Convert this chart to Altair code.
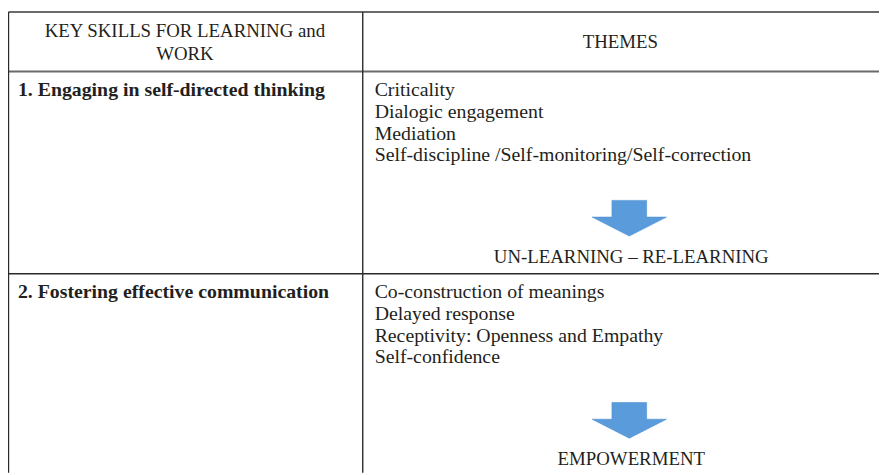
import altair as alt
import pandas as pd

# ---------------- content ----------------
header_left = ["KEY SKILLS FOR LEARNING and", "WORK"]
header_right = ["THEMES"]
skills = ["1. Engaging in self-directed thinking",
          "2. Fostering effective communication"]
themes = [
    ["Criticality", "Dialogic engagement", "Mediation",
     "Self-discipline /Self-monitoring/Self-correction"],
    ["Co-construction of meanings", "Delayed response",
     "Receptivity: Openness and Empathy", "Self-confidence"],
]
outcomes = ["UN-LEARNING \u2013 RE-LEARNING", "EMPOWERMENT"]

# ---------------- layout (page pixels) ----------------
W, H, M = 887, 475, 8
left_x, div_x, right_x = 8.5, 366, 887
top_y, head_y = 10, 70
row_h = 204
line_gap = 21.8
first_off = 25
arrow_off = 148
outcome_off = 193
left_pad, theme_pad = 18, 378
left_center = (7 + div_x) / 2
right_center = 626
out_center = 637
FONT = "Liberation Serif, Times New Roman, DejaVu Serif, serif"
FS_HDR = 19
FS_BODY = 20
TXT = "#231f20"

# text tables
hdr_rows = [{"x": left_center, "y": 35 + i * 23, "text": t} for i, t in enumerate(header_left)]
hdr_rows += [{"x": right_center, "y": 46, "text": header_right[0]}]
bold_rows, theme_rows, out_rows, arrow_rows = [], [], [], []
row_tops = [head_y + i * row_h for i in range(len(skills))]
for i, rt in enumerate(row_tops):
    bold_rows.append({"x": left_pad, "y": rt + first_off, "text": skills[i]})
    for j, t in enumerate(themes[i]):
        theme_rows.append({"x": theme_pad, "y": rt + first_off + j * line_gap, "text": t})
    out_rows.append({"x": out_center, "y": rt + outcome_off, "text": outcomes[i]})
    arrow_rows.append({"x": 635, "y": rt + arrow_off})

h_lines = pd.DataFrame([
    {"x": left_x, "x2": right_x, "y": top_y, "y2": top_y, "c": "top"},
    {"x": left_x, "x2": right_x, "y": head_y, "y2": head_y, "c": "top"},
] + [{"x": left_x, "x2": right_x, "y": rt, "y2": rt, "c": "row"} for rt in row_tops[1:]])
v_lines = pd.DataFrame([
    {"x": left_x, "x2": left_x, "y": top_y, "y2": H},
    {"x": div_x, "x2": div_x, "y": top_y, "y2": H},
])

xs = alt.Scale(domain=[M, W], nice=False, zero=False)
ys = alt.Scale(domain=[M, H], nice=False, zero=False, reverse=True)


def X(f="x"):
    return alt.X(f"{f}:Q", scale=xs, axis=None)


def Y(f="y"):
    return alt.Y(f"{f}:Q", scale=ys, axis=None)


top_rules = alt.Chart(h_lines[h_lines.c == "top"]).mark_rule(
    color="#6a6a6a", strokeWidth=2).encode(x=X(), x2="x2:Q", y=Y(), y2="y2:Q")
row_rules = alt.Chart(h_lines[h_lines.c == "row"]).mark_rule(
    color="#2a2a2a", strokeWidth=1.6).encode(x=X(), x2="x2:Q", y=Y(), y2="y2:Q")
vert_rules = alt.Chart(v_lines).mark_rule(
    color="#2a2a2a", strokeWidth=1.4).encode(x=X(), x2="x2:Q", y=Y(), y2="y2:Q")

txt = dict(font=FONT, color=TXT, baseline="alphabetic")
hdr = alt.Chart(pd.DataFrame(hdr_rows)).mark_text(align="center", fontSize=FS_HDR, **txt).encode(
    x=X(), y=Y(), text="text:N")
bold = alt.Chart(pd.DataFrame(bold_rows)).mark_text(
    align="left", fontWeight="bold", fontSize=FS_BODY, **txt).encode(x=X(), y=Y(), text="text:N")
th = alt.Chart(pd.DataFrame(theme_rows)).mark_text(align="left", fontSize=FS_BODY, **txt).encode(
    x=X(), y=Y(), text="text:N")
outs = alt.Chart(pd.DataFrame(out_rows)).mark_text(align="center", fontSize=FS_HDR, **txt).encode(
    x=X(), y=Y(), text="text:N")

arrow_path = "M-0.467,-0.48L0.467,-0.48L0.467,-0.03L1,-0.03L0,0.48L-1,-0.03L-0.467,-0.03Z"
arrows = alt.Chart(pd.DataFrame(arrow_rows)).mark_point(
    shape=arrow_path, size=5625, filled=True, color="#5a9cdb", opacity=1,
    stroke="#4d8fd0", strokeWidth=0.6).encode(x=X(), y=Y())

chart = alt.layer(top_rules, row_rules, vert_rules, hdr, bold, th, outs, arrows).properties(
    width=W - M, height=H - M, padding=0, autosize="none", background="white"
).configure_view(strokeWidth=0)

chart.save("out.html", embed_options={"renderer": "svg", "actions": False})
